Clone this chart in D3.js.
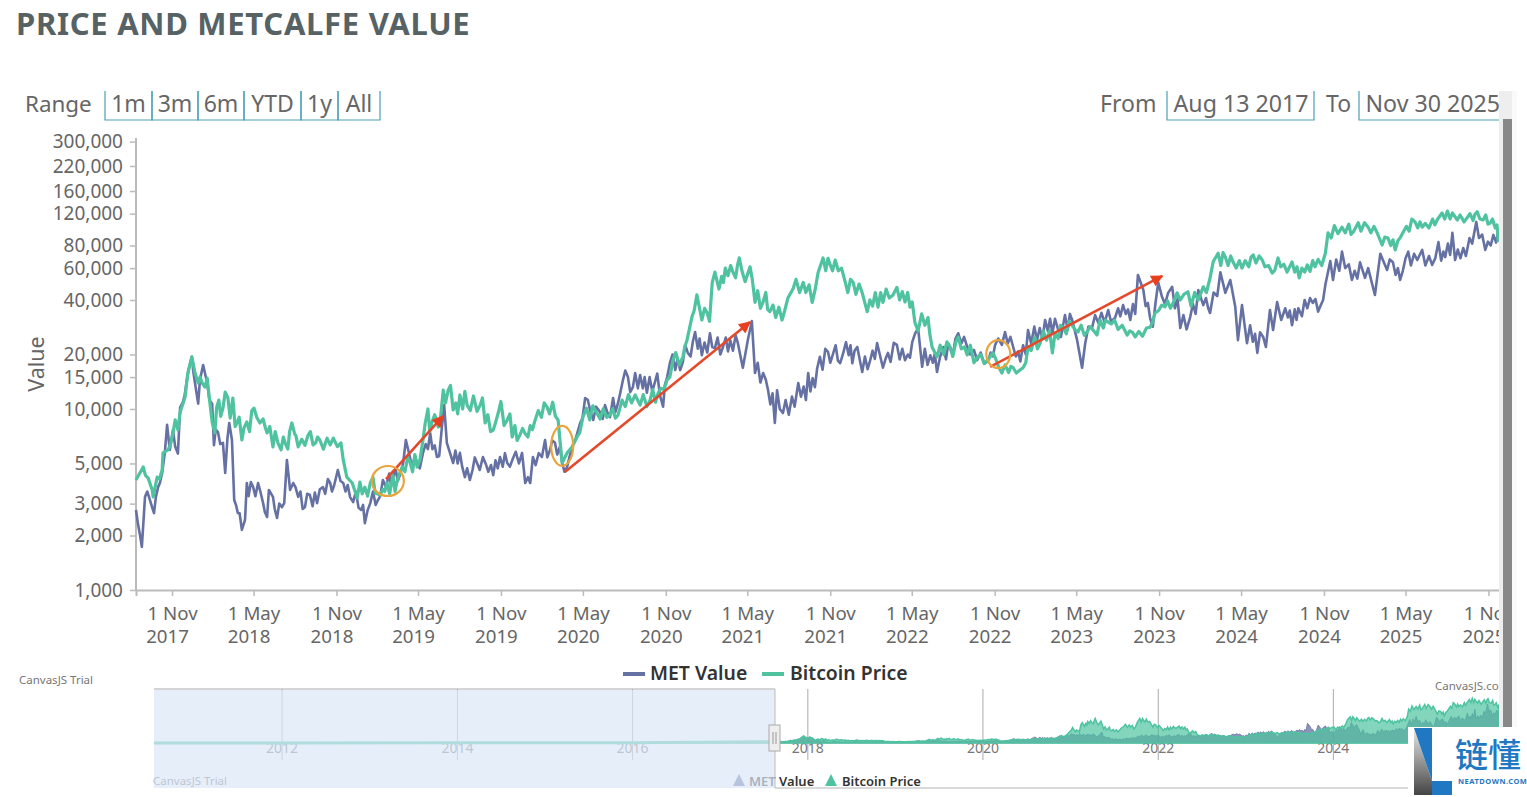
<!DOCTYPE html>
<html><head><meta charset="utf-8">
<script src="https://cdn.jsdelivr.net/npm/d3@7"></script>
<style>html,body{margin:0;padding:0;background:#fff;overflow:hidden}svg{display:block}text{font-family:"Noto Sans",sans-serif}</style>
</head><body><svg id="c" width="1527" height="797"></svg>
<script>
const startDate = "2017-08-13", endDate = "2025-11-30";
const metDays = [0,4,9,13,20,31,40,49,58,64,69,75,82,93,98,104,113,124,131,138,142,149,158,169,173,182,193,198,207,213,218,226,235,242,246,260,271,282,291,295,304,313,324,329,335,342,349,360,375,386,402,415,431,440,448,460,475,482,500,508,520,537,548,571,586,593,599,608,624,637,653,668,679,684,690,704,719,730,741,757,770,793,808,824,837,857,864,875,881,901,908,919,930,946,957,968,975,986,997,1003,1015,1030,1046,1059,1070,1081,1092,1103,1119,1134,1152,1163,1170,1174,1185,1197,1208,1225,1241,1256,1274,1285,1303,1319,1336,1347,1358,1367,1374,1392,1403,1418,1423,1436,1456,1470,1476,1492,1507,1518,1536,1547,1563,1576,1590,1601,1612,1629,1645,1658,1669,1689,1707,1723,1736,1745,1763,1778,1792,1807,1825,1845,1867,1891,1907,1929,1947,1963,1980,2000,2018,2034,2047,2062,2078,2089,2100,2107,2129,2136,2158,2173,2191,2207,2224,2236,2251,2269,2291,2300,2318,2340,2358,2369,2384,2407,2418,2429,2440,2446,2455,2466,2473,2489,2502,2517,2524,2533,2542,2551,2566,2580,2606,2624,2640,2651,2657,2677,2699,2717,2728,2735,2750,2762,2777,2790,2806,2824,2844,2855,2877,2891,2906,2922,2928,2946,2966,2975,2995,3013,3024];
const metValues = [2767,2350,2000,1730,3270,3140,2660,3700,4430,5720,8170,5940,7660,5670,10200,10900,14500,19400,13900,10700,14500,17500,13900,10700,6300,7450,6500,4430,8370,6740,3140,2660,2150,2440,3900,3700,3900,3030,2530,3570,3270,2500,2870,3020,5230,3570,3900,3270,2870,3350,3020,3700,3900,3800,4600,3900,3270,3060,2770,2340,3020,3140,4050,4200,4310,5030,6740,5430,5030,5720,7370,5430,7950,10500,6500,5030,5720,4200,4050,5030,5430,4310,5430,5030,5360,5720,3900,3900,5430,5430,6740,5940,6500,5030,4780,6170,6740,8370,11500,11200,8690,9620,9620,11500,10800,14500,15000,13200,15400,12300,14100,11900,10300,13600,17900,16400,16400,20400,26600,19800,26200,21700,22000,24000,23100,16900,24000,30600,15800,15800,12700,8370,12700,9500,11700,13900,11700,15800,13200,19400,20700,20100,17900,23400,17900,22000,16000,18300,23100,16900,20400,22600,18600,23400,28000,17100,19800,16000,22000,22000,26200,22000,18600,18300,22600,26600,22000,18300,27300,24000,31000,26200,27300,33000,31000,24000,16900,23100,33000,29900,35200,31800,37500,31000,55000,45400,31800,50000,43800,47300,28000,32200,45400,37500,33900,56900,43800,51600,36700,24000,37500,23100,29000,20400,25000,35200,27300,39000,31000,36000,29000,36000,41000,34500,48500,65600,51600,74000,51600,64600,53000,60000,42600,72000,58600,64600,51600,74000,66500,75600,62500,83500,69000,94000,66500,77500,82000,108000,75600,91500,96000];
const metDetailDays = [25,36,44,53,87,108,118,127,163,177,187,203,222,230,250,255,265,276,286,308,318,354,365,370,380,392,397,408,420,426,435,454,465,470,488,494,504,514,526,532,542,555,562,566,576,581,613,619,630,643,648,658,663,673,709,714,724,735,747,752,763,776,782,788,798,803,814,819,830,843,850,870,887,894,913,924,935,941,951,962,991,1009,1021,1036,1041,1052,1064,1075,1086,1097,1108,1114,1125,1129,1140,1146,1157,1179,1191,1202,1214,1219,1231,1236,1247,1251,1262,1268,1279,1291,1297,1309,1314,1325,1331,1341,1380,1386,1398,1408,1413,1429,1442,1449,1462,1482,1487,1497,1502,1512,1524,1530,1541,1553,1558,1569,1582,1586,1595,1606,1618,1624,1635,1640,1651,1664,1675,1682,1695,1701,1713,1718,1729,1751,1757,1769,1773,1785,1798,1803,1813,1819,1832,1838,1852,1860,1875,1883,1897,1902,1914,1922,1935,1941,1953,1958,1969,1975,1987,1994,2006,2012,2024,2029,2040,2053,2068,2073,2114,2122,2143,2150,2164,2180,2185,2197,2202,2213,2218,2241,2246,2257,2263,2277,2284,2306,2312,2325,2332,2346,2352,2375,2380,2392,2400,2479,2484,2495,2508,2513,2557,2561,2572,2576,2588,2594,2600,2612,2618,2630,2635,2664,2671,2684,2692,2705,2711,2783,2796,2801,2812,2818,2830,2837,2862,2870,2884,2897,2902,2912,2917,2934,2940,2952,2960,2981,2988,3001,3007,3019];
const metDetailValues = [3500,2850,3250,3900,6200,11900,17000,16200,11200,7700,6400,6900,2950,2650,3300,3950,3300,3500,2700,2800,3000,3700,3500,2800,3400,2900,3450,3600,3400,4100,3500,4000,3500,3800,3500,2850,2950,2750,3500,2950,3300,3700,4400,3800,4700,4000,4700,5500,4700,6400,6000,6000,6300,5500,5900,5000,4800,4700,4600,5400,4600,5000,4500,4900,5200,4700,4800,5700,4800,5800,5000,4200,4900,5700,5400,6700,5600,6200,4500,5400,8900,9600,10300,8800,10500,9000,9600,12300,16300,12400,15800,13000,13000,15000,15000,12500,15700,15000,20000,18900,18200,22500,19500,23500,21500,24500,23300,20500,22000,24800,20000,24800,20800,21000,25500,20000,18000,14000,14500,10600,12200,10000,11200,9300,10300,13300,11200,12500,14800,16800,16500,21500,18000,22500,18500,20000,19800,22500,21000,19000,19500,16600,21000,18900,20000,19000,18200,23200,18800,21500,20000,19200,26000,21500,17500,18000,20200,19500,18800,23000,19800,24500,23000,25000,20000,21200,20500,17800,20500,19500,24500,22600,23000,25000,19500,20800,22500,20000,23000,28500,28000,24500,27000,31500,31500,25000,27500,33500,28500,28000,34000,30000,30500,36000,32500,33500,35500,38000,33500,37000,38500,28500,38500,42000,38000,36000,40500,33000,27500,38000,33500,41000,36000,44000,42000,23500,26000,26500,22000,28500,32000,35000,35500,31000,32500,40000,36000,38500,40500,37500,40000,67000,58000,60000,63000,58000,52500,67000,55000,60000,58000,68000,62000,72000,62000,70000,68000,66000,74000,82000,71000,76000,68000,70000,88000,88000,92000,84000,80000,83000];
const btcDays = [0,16,27,36,38,47,58,60,71,82,93,98,109,115,124,131,138,147,153,164,175,184,193,204,209,224,235,246,262,275,291,304,315,331,346,360,382,393,408,431,455,460,468,480,491,497,508,520,531,542,557,579,591,608,624,637,642,657,671,682,693,704,719,735,764,775,793,804,824,835,852,870,886,912,937,941,946,957,968,979,992,1023,1052,1070,1079,1108,1119,1141,1159,1179,1192,1214,1223,1234,1245,1256,1268,1279,1285,1294,1308,1325,1339,1352,1363,1374,1392,1407,1414,1434,1447,1459,1481,1501,1514,1525,1541,1552,1574,1592,1612,1623,1641,1658,1689,1707,1723,1729,1758,1767,1778,1807,1825,1845,1867,1891,1902,1922,1947,1969,1980,2007,2034,2040,2058,2078,2091,2111,2133,2140,2158,2189,2200,2218,2251,2262,2284,2302,2311,2335,2358,2369,2384,2391,2402,2418,2435,2455,2480,2500,2522,2535,2555,2566,2582,2600,2617,2640,2646,2677,2702,2713,2735,2755,2766,2779,2795,2813,2839,2855,2888,2899,2922,2933,2955,2977,2990,3006,3024];
const btcValues = [4050,4780,4150,3570,3270,4200,4600,5720,5940,7370,7660,9620,11650,15800,19400,15800,13900,13900,13200,10800,7370,11200,10100,11500,8910,8370,6740,8470,10100,8370,7370,6170,6500,6500,8370,6170,7170,6330,6740,6330,6500,5230,4200,3900,3220,3950,3700,3900,3430,3350,3900,3950,4780,5100,4780,6740,8370,8470,7950,12700,12700,9870,11950,10500,10500,8370,7650,9500,8690,7000,7170,7000,8690,10300,8690,6740,5030,5720,6170,7000,9000,9500,9270,9270,11200,11950,10500,11200,12250,14500,18650,19400,24000,32200,42700,31000,33900,49800,57000,46000,60000,57000,68300,50500,61000,38800,39000,34500,37500,31000,41000,46500,50000,38800,56500,68300,62500,66500,50500,50000,43800,34500,44000,38800,47000,39000,39000,30000,32000,22000,19400,22000,25000,19900,19200,18650,20400,15800,16900,16900,22000,23100,20400,26200,28300,29000,26600,26600,25600,31000,30200,29000,25600,25000,28300,33900,36700,38500,43800,44400,40000,47300,52800,65000,72500,69000,65000,60000,71000,66500,56300,68300,57000,65000,53000,62500,61000,72500,94000,101000,95000,107000,101000,94000,80500,88000,75600,95000,108000,101000,110700,121000,121000,110700,114000,123000,110700,106500,83500];
const btcDetailDays = [21,52,76,87,103,142,158,169,179,188,198,215,220,229,240,252,257,268,282,287,297,309,322,327,337,341,352,355,368,375,387,399,403,416,424,438,447,502,514,526,548,552,563,570,575,585,597,603,614,619,630,648,652,663,676,687,698,710,714,725,730,742,749,757,769,781,787,798,810,817,830,841,846,858,864,875,880,893,900,906,918,925,931,985,1000,1007,1014,1030,1037,1045,1058,1064,1086,1093,1100,1126,1134,1147,1153,1165,1172,1185,1198,1206,1218,1239,1262,1273,1300,1304,1314,1320,1331,1335,1345,1368,1380,1386,1398,1402,1420,1427,1440,1465,1473,1487,1494,1507,1531,1536,1546,1559,1566,1580,1586,1598,1605,1629,1635,1647,1653,1665,1672,1680,1695,1701,1713,1718,1736,1744,1751,1762,1785,1793,1800,1813,1820,1832,1839,1852,1860,1875,1883,1908,1915,1929,1937,1942,1954,1962,1975,1987,1995,2001,2014,2021,2028,2047,2052,2065,2071,2084,2098,2105,2118,2126,2147,2152,2165,2172,2180,2206,2212,2226,2234,2243,2256,2270,2277,2290,2296,2318,2326,2342,2350,2376,2408,2413,2424,2430,2442,2449,2462,2470,2475,2486,2493,2506,2514,2528,2541,2548,2572,2577,2588,2594,2606,2612,2624,2632,2653,2660,2668,2684,2692,2697,2719,2727,2741,2748,2772,2785,2790,2801,2807,2820,2826,2832,2845,2850,2862,2870,2878,2883,2905,2911,2917,2939,2948,2961,2968,2972,2983,2996,3001,3011,3017,3021];
const btcDetailValues = [4300,4100,6300,8700,10500,15000,14800,8500,10200,9100,12400,11500,8000,9000,7900,7500,9800,9000,8800,7900,8000,7500,5950,7000,6000,7500,7300,7100,6800,6300,7500,6500,7000,6000,6900,6900,6200,3400,3300,4200,3600,3500,3400,4300,3500,4400,4500,5400,4500,5600,5200,10000,7500,9300,9000,10800,13500,10800,9400,10000,12500,9800,11800,9700,11500,9300,7500,8400,11000,8100,9400,8100,6700,7800,7300,8100,7700,9800,9000,10800,9400,10900,9100,7400,10100,8700,10400,8800,10000,9000,10000,8900,10300,12000,10800,12000,10300,12800,10900,13000,12800,15000,20500,17500,22000,35000,36000,30500,54000,50000,54500,62000,53000,62000,58000,52000,45000,36000,44000,35500,32000,36500,35000,52000,44000,44000,48500,45000,58000,68000,58000,58000,60000,44000,52000,43000,49000,40000,37000,36500,44000,46000,41000,42500,40000,44500,44000,36500,27000,33500,29000,26000,22500,20000,23500,19500,23500,21500,22000,22500,18000,20000,17800,19000,17000,17500,15900,17200,15800,16400,18000,21000,25000,21500,27000,24000,27000,24500,29000,26000,30500,27500,29000,25500,28500,27000,28000,31000,29500,31000,27500,27000,26500,26800,25200,28000,30000,35000,37500,39500,36000,40000,43000,37000,44000,44000,62000,73000,62000,70000,60000,66000,66000,61000,69000,64000,70000,61000,62000,58500,61000,63000,57000,61000,60000,57000,57500,66000,67000,62000,88000,103000,93000,94000,105000,92000,96000,107000,94000,102000,89000,80000,86000,85000,89000,102000,96000,112000,100000,108000,106000,100000,112000,104000,112000,124000,112000,118000,108000,120000,110000,119000,112000,118000,105000,112000,100000,104000];
const navEarlyDates = ["2010-07-16","2012-01-01","2014-01-01","2016-01-01","2017-08-13"];
const navEarlyValues = [1,5,800,430,4000];
const yTicks = [1000,2000,3000,5000,10000,15000,20000,40000,60000,80000,120000,160000,220000,300000];
const xTickDates = ["2017-11-01","2018-05-01","2018-11-01","2019-05-01","2019-11-01","2020-05-01","2020-11-01","2021-05-01","2021-11-01","2022-05-01","2022-11-01","2023-05-01","2023-11-01","2024-05-01","2024-11-01","2025-05-01","2025-11-01"];
const navYears = [2012,2014,2016,2018,2020,2022,2024];
const rangeButtons = ["1m","3m","6m","YTD","1y","All"];
const seriesNames = ["MET Value","Bitcoin Price"];
const arrows = [[555,4100,682,9150],[952,4480,1363,30200],[1896,17100,2278,54300]];
const circles = [[559,4000],[946,6250],[1914,20100]];

const MET="#6570a3", BTC="#4fc3a0", GREY="#666", TEAL="#4f9fb6";
const svg=d3.select("#c");
const pd=d3.timeParse("%Y-%m-%d");
const t0=pd(startDate), t1=pd(endDate);
const dayToDate=d=>d3.timeDay.offset(t0,d);
const x=d3.scaleTime().domain([t0,t1]).range([136,1501.5]);
const y=d3.scaleLog().domain([1000,314000]).range([590,138]);
const build=(ds,vs,dd,dv)=>ds.map((d,i)=>[d,vs[i]]).concat(dd.map((d,i)=>[d,dv[i]])).sort((a,b)=>a[0]-b[0]).map(p=>({t:dayToDate(p[0]),v:p[1]}));
const met=build(metDays,metValues,metDetailDays,metDetailValues);
const btc=build(btcDays,btcValues,btcDetailDays,btcDetailValues);

svg.append("text").attr("x",16).attr("y",35).attr("font-size",31).attr("font-weight",700).attr("letter-spacing",.7).attr("fill","#566263").text("PRICE AND METCALFE VALUE");

// range selector
const lab=(s,xx,a,fs)=>svg.append("text").attr("x",xx).attr("y",112).attr("font-size",fs||23).attr("fill",GREY).attr("text-anchor",a||"start").text(s);
lab("Range",25,"start",22.4);
const btnEdges=[105,152,198,244,301,338,380];
rangeButtons.forEach((b,i)=>{
  const a=btnEdges[i],c=btnEdges[i+1];
  svg.append("path").attr("d",`M${a},91V120H${c}V91`).attr("fill","none").attr("stroke",TEAL).attr("stroke-width",1.2);
  lab(b,(a+c)/2,"middle");
});
lab("From",1100);lab("To",1326);
[[1167,1314,"Aug 13 2017"],[1359,1505,"Nov 30 2025"]].forEach(d=>{
  svg.append("path").attr("d",`M${d[0]},91V120H${d[1]}V91`).attr("fill","none").attr("stroke",TEAL).attr("stroke-width",1.2);
  lab(d[2],d[0]+6.5,"start",23.2);
});

// axes
const ya=svg.append("g").attr("transform","translate(136,0)").call(d3.axisLeft(y).tickValues(yTicks).tickFormat(d3.format(",")).tickSize(6).tickPadding(7));
ya.selectAll("text").attr("font-size",19).attr("fill",GREY);
ya.selectAll(".tick line").attr("stroke","#bbb").attr("stroke-width",1.5);
ya.select(".domain").attr("stroke","#bbb").attr("stroke-width",2).attr("d","M0,138V590");
svg.append("text").attr("transform","translate(44,364) rotate(-90)").attr("text-anchor","middle").attr("font-size",21.5).attr("fill",GREY).text("Value");

const xa=svg.append("g").attr("transform","translate(0,590)").call(d3.axisBottom(x).tickValues(xTickDates.map(pd)).tickFormat(d3.timeFormat("1 %b")).tickSize(6).tickPadding(6));
xa.select(".domain").attr("stroke","#bbb").attr("stroke-width",2);
xa.selectAll(".tick line").attr("stroke","#bbb").attr("stroke-width",1.5);
xa.selectAll(".tick text").attr("font-size",18.7).attr("fill",GREY).attr("y",30).attr("dy",0);
xa.selectAll(".tick").append("text").attr("x",-5).attr("y",53).attr("font-size",18.7).attr("fill",GREY).attr("text-anchor","middle").text(d=>d.getFullYear());

// lines
const line=d3.line().x(d=>x(d.t)).y(d=>y(d.v));
svg.append("path").datum(met).attr("d",line).attr("fill","none").attr("stroke",MET).attr("stroke-width",2.6).attr("stroke-linejoin","round");
svg.append("path").datum(btc).attr("d",line).attr("fill","none").attr("stroke",BTC).attr("stroke-width",3.2).attr("stroke-linejoin","round");

// annotations
svg.append("defs").append("marker").attr("id","ah").attr("viewBox","0 0 10 10").attr("refX",9).attr("refY",5).attr("markerWidth",15).attr("markerHeight",12).attr("markerUnits","userSpaceOnUse").attr("orient","auto").append("path").attr("d","M0,0L10,5L0,10Z").attr("fill","#e8401f");
arrows.forEach(a=>svg.append("line").attr("x1",x(dayToDate(a[0]))).attr("y1",y(a[1])).attr("x2",x(dayToDate(a[2]))).attr("y2",y(a[3])).attr("stroke","#e5492c").attr("stroke-width",2.6).attr("marker-end","url(#ah)"));
const radii=[[16,15],[11,20],[12,14]];
circles.forEach((c,i)=>svg.append("ellipse").attr("cx",x(dayToDate(c[0]))).attr("cy",y(c[1])).attr("rx",radii[i][0]).attr("ry",radii[i][1]).attr("fill","none").attr("stroke","#e9a53c").attr("stroke-width",2.2));

// legend
[[623,650,MET],[762,790,BTC]].forEach((d,i)=>{
  svg.append("line").attr("x1",d[0]).attr("x2",d[0]+22).attr("y1",674).attr("y2",674).attr("stroke",d[2]).attr("stroke-width",4);
  svg.append("text").attr("x",d[1]).attr("y",680).attr("font-size",19.4).attr("font-weight",600).attr("fill","#333").text(seriesNames[i]);
});

// navigator
const nx=d3.scaleTime().domain([pd("2010-07-16"),t1]).range([154,1501]);
const ny=d3.scaleLinear().domain([0,125000]).range([743,698]);
const navEarly=navEarlyDates.map((d,i)=>({t:pd(d),v:navEarlyValues[i]}));
const area=d3.area().x(d=>nx(d.t)).y0(ny(0)).y1(d=>ny(d.v));
const nav=svg.append("g");
nav.append("line").attr("x1",154).attr("x2",775).attr("y1",689).attr("y2",689).attr("stroke","#aaa");
nav.append("line").attr("x1",775).attr("x2",1410).attr("y1",788).attr("y2",788).attr("stroke","#ccc").attr("stroke-width",1.5);
navYears.forEach(yr=>{
  const px=nx(new Date(yr,0,1));
  nav.append("line").attr("x1",px).attr("x2",px).attr("y1",689).attr("y2",760).attr("stroke","#aaa");
  nav.append("text").attr("x",px).attr("y",753).attr("text-anchor","middle").attr("font-size",14).attr("fill","#777").text(yr);
});
nav.append("path").datum(navEarly.concat(met)).attr("d",area).attr("fill",MET).attr("fill-opacity",.75).attr("stroke",MET).attr("stroke-opacity",.8);
nav.append("path").datum(navEarly.concat(btc)).attr("d",area).attr("fill",BTC).attr("fill-opacity",.7).attr("stroke",BTC).attr("stroke-width",1.5);
nav.append("path").datum(navEarly).attr("d",d3.line().x(d=>nx(d.t)).y(d=>ny(d.v))).attr("fill","none").attr("stroke",BTC).attr("stroke-width",3);
nav.append("text").attr("x",153).attr("y",785).attr("font-size",11.5).attr("fill","#777").text("CanvasJS Trial");
nav.append("path").attr("d","M733,786l6,-12l6,12Z").attr("fill",MET);
nav.append("path").attr("d","M825,786l6,-12l6,12Z").attr("fill",BTC);
nav.append("text").attr("x",749).attr("y",786).attr("font-size",13).attr("font-weight",600).attr("fill","#333").text(seriesNames[0]);
nav.append("text").attr("x",842).attr("y",786).attr("font-size",13).attr("font-weight",600).attr("fill","#333").text(seriesNames[1]);
svg.append("rect").attr("x",154).attr("y",690).attr("width",621).attr("height",98).attr("fill","#dbe7f8").attr("fill-opacity",.7);
svg.append("line").attr("x1",775).attr("x2",775).attr("y1",689).attr("y2",788).attr("stroke","#bbb");
svg.append("rect").attr("x",769).attr("y",725).attr("width",11).attr("height",26).attr("fill","#eee").attr("stroke","#aaa");
[773,776].forEach(p=>svg.append("line").attr("x1",p).attr("x2",p).attr("y1",732).attr("y2",744).attr("stroke","#999"));
svg.append("text").attr("x",19).attr("y",684).attr("font-size",11.5).attr("fill","#777").text("CanvasJS Trial");
svg.append("text").attr("x",1435).attr("y",690).attr("font-size",11.5).attr("fill","#777").text("CanvasJS.com");

// scrollbar
svg.append("rect").attr("x",1499).attr("y",91).attr("width",18).attr("height",640).attr("fill","#eee");
svg.append("rect").attr("x",1503).attr("y",119).attr("width",9).attr("height",612).attr("fill","#888");
svg.append("rect").attr("x",1512).attr("y",91).attr("width",15).attr("height",640).attr("fill","#fff").attr("fill-opacity",.7);

// watermark
const wm=svg.append("g");
wm.append("rect").attr("x",1408).attr("y",727).attr("width",119).attr("height",70).attr("fill","#fff");
const g=svg.select("defs").append("linearGradient").attr("id","lg").attr("x1",0).attr("y1",0).attr("x2",0).attr("y2",1);
g.append("stop").attr("offset",0).attr("stop-color","#e8e8e8");
g.append("stop").attr("offset",1).attr("stop-color","#444");
wm.append("path").attr("d","M1414,728L1432,781V795H1414Z").attr("fill","url(#lg)");
wm.append("path").attr("d","M1414,728H1432V781Z").attr("fill","#1f78c1");
wm.append("rect").attr("x",1432).attr("y",781).attr("width",20).attr("height",14).attr("fill","#1f78c1");
wm.append("text").attr("x",1455).attr("y",767).attr("font-size",33).attr("font-weight",500).attr("fill","#1f78c1").style("font-family","'Noto Sans CJK SC'").text("链懂");
wm.append("text").attr("x",1458).attr("y",784).attr("font-size",7.5).attr("font-weight",700).attr("letter-spacing",.5).attr("fill","#1f78c1").text("NEATDOWN.COM");
</script></body></html>
